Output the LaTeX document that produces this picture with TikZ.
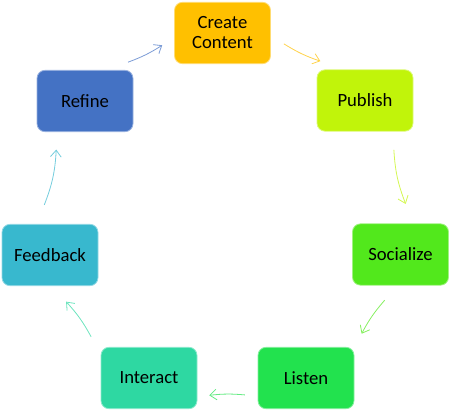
\documentclass[tikz,border=0pt]{standalone}
\usepackage{fontspec}
\setmainfont{Carlito}
\usepackage{tikz}
\usetikzlibrary{arrows.meta}

\definecolor{createcol}{HTML}{FFC000}
\definecolor{publishcol}{HTML}{C1F40A}
\definecolor{socialcol}{HTML}{52E81C}
\definecolor{listencol}{HTML}{22E24E}
\definecolor{interactcol}{HTML}{2ED8A2}
\definecolor{feedbackcol}{HTML}{38B8CE}
\definecolor{refinecol}{HTML}{4472C4}

\tikzset{
    phase/.style={shape=rectangle, rounded corners=6pt, draw=#1!55!white, fill=#1,
        line width=0.6pt, minimum width=72pt, minimum height=46pt, inner sep=0pt,
        align=center, font=\fontsize{14}{15}\selectfont},
    cyc/.style={draw=#1!70!white, line width=0.6pt,
        -{Straight Barb[length=5pt,width=8pt]}}}

\begin{document}
\begin{tikzpicture}[x=0.75pt, y=0.75pt]

            \useasboundingbox (0,0) rectangle (450,411);
            \coordinate (O) at (225,196);

            \node[phase=createcol] (create) at (222.5,378) {Create\\Content};
            \node[phase=publishcol] (publish) at (365,310.5) {Publish};
            \node[phase=socialcol] (social) at (400.5,156.5) {Socialize};
            \node[phase=listencol] (listen) at (306,33) {Listen};
            \node[phase=interactcol] (interact) at (149,33) {Interact};
            \node[phase=feedbackcol] (feedback) at (50,156) {Feedback};
            \node[phase=refinecol] (refine) at (85,310) {Refine};

            % ends of the arrows, on the circle round O
            \path (O) ++(71:181) coordinate (s1) (O) ++(58.2:181) coordinate (e1);
            \path (O) ++(21.1:181) coordinate (s2) (O) ++(3.5:181) coordinate (e2);
            \path (O) ++(-28.1:181) coordinate (s3) (O) ++(-41:181) coordinate (e3);
            \path (O) ++(-83.7:181) coordinate (s4) (O) ++(-95:181) coordinate (e4);
            \path (O) ++(-137.7:181) coordinate (s5) (O) ++(-151.4:181) coordinate (e5);
            \path (O) ++(176.8:181) coordinate (s6) (O) ++(158.8:181) coordinate (e6);
            \path (O) ++(122.4:181) coordinate (s7) (O) ++(110.3:181) coordinate (e7);

            \draw[cyc=createcol] (s1) to[bend right=6.4] (e1);
            \draw[cyc=publishcol] (s2) to[bend right=8.8] (e2);
            \draw[cyc=socialcol] (s3) to[bend right=6.5] (e3);
            \draw[cyc=listencol] (s4) to[bend right=5.6] (e4);
            \draw[cyc=interactcol] (s5) to[bend right=6.9] (e5);
            \draw[cyc=feedbackcol] (s6) to[bend right=9] (e6);
            \draw[cyc=refinecol] (s7) to[bend right=6] (e7);

        \end{tikzpicture}
\end{document}
